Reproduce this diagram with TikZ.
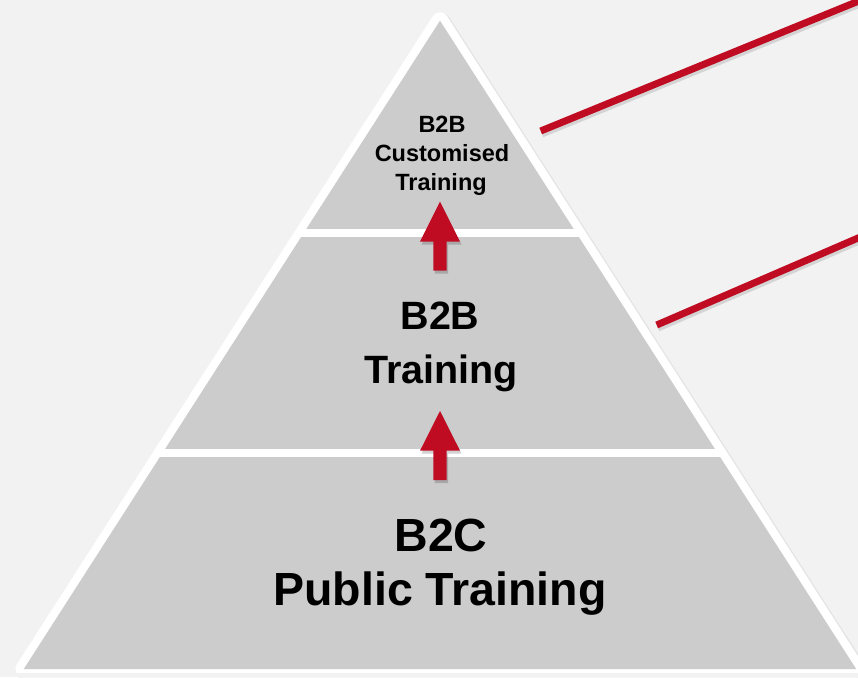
\documentclass[tikz,border=0pt]{standalone}
\usepackage{fontspec}
\setmainfont{Liberation Sans}
\definecolor{bg}{HTML}{F2F2F2}
\definecolor{layer}{HTML}{CCCCCC}
\definecolor{accent}{RGB}{192,12,34}
\tikzset{
  lbl/.style={inner sep=0pt, anchor=base, text=black},
  fsmall/.style={font=\fontsize{23.5}{28}\selectfont\bfseries},
  fmid/.style={font=\fontsize{39.5}{46}\selectfont\bfseries},
  fbig/.style={font=\fontsize{46.5}{54}\selectfont\bfseries},
  divider/.style={white, line width=7.5pt},
  upar/.style={fill=accent},
  upshadow/.style={fill=black, opacity=0.18},
  callout/.style={accent, line width=7pt},
  calloutshadow/.style={black, opacity=0.12, line width=8pt}
}
\begin{document}
\begin{tikzpicture}[x=1pt,y=-1pt]
\fill[bg] (0,0) rectangle (858,677);
\useasboundingbox (0,0) rectangle (858,677);
% pyramid
\coordinate (A) at (440,20.7);
\coordinate (BL) at (23.8,669);
\coordinate (BR) at (856.2,669);
\draw[black, opacity=0.06, line width=19pt, line join=round] ([shift={(1.5,2)}]A) -- ([shift={(1.5,2)}]BL) -- ([shift={(1.5,2)}]BR) -- cycle;
\draw[white, line width=16.8pt, line join=round] (A) -- (BL) -- (BR) -- cycle;
\fill[layer] (A) -- (BL) -- (BR) -- cycle;
\fill[bg] (0,672.5) rectangle (858,677);
% dividers
\coordinate (d1l) at (300,233);
\coordinate (d1r) at (580,233);
\coordinate (d2l) at (158,453);
\coordinate (d2r) at (722,453);
\draw[divider] (d1l) -- (d1r);
\draw[divider] (d2l) -- (d2r);
% arrows
\foreach \t/\b/\e in {201.7/241.7/270.7, 411/450.7/480}{
  \fill[upshadow] (441.5,\t+3) -- (461.5,\b+3) -- (448.2,\b+3) -- (448.2,\e+3) -- (434.8,\e+3) -- (434.8,\b+3) -- (421.5,\b+3) -- cycle;
  \fill[upar] (440,\t) -- (460,\b) -- (446.7,\b) -- (446.7,\e) -- (433.3,\e) -- (433.3,\b) -- (420,\b) -- cycle;
}
% callout lines
\coordinate (c1s) at (540.7,131);
\coordinate (c1e) at (862,-0.3);
\coordinate (c2s) at (656.7,325);
\coordinate (c2e) at (862,236.3);
\draw[calloutshadow] ([shift={(1,2.5)}]c1s) -- ([shift={(1,2.5)}]c1e);
\draw[calloutshadow] ([shift={(1,2.5)}]c2s) -- ([shift={(1,2.5)}]c2e);
\draw[callout] (c1s) -- (c1e);
\draw[callout] (c2s) -- (c2e);
% labels
\node[lbl, fsmall] (t1a) at (442,132) {B2B};
\node[lbl, fsmall] (t1b) at (442,161.5) {Customised};
\node[lbl, fsmall] (t1c) at (441,190) {Training};
\node[lbl, fmid] (t2a) at (440,329) {B2B};
\node[lbl, fmid] (t2b) at (441,383) {Training};
\node[lbl, fbig] (t3a) at (441,551) {B2C};
\node[lbl, fbig] (t3b) at (440,605) {Public Training};
\end{tikzpicture}
\end{document}
